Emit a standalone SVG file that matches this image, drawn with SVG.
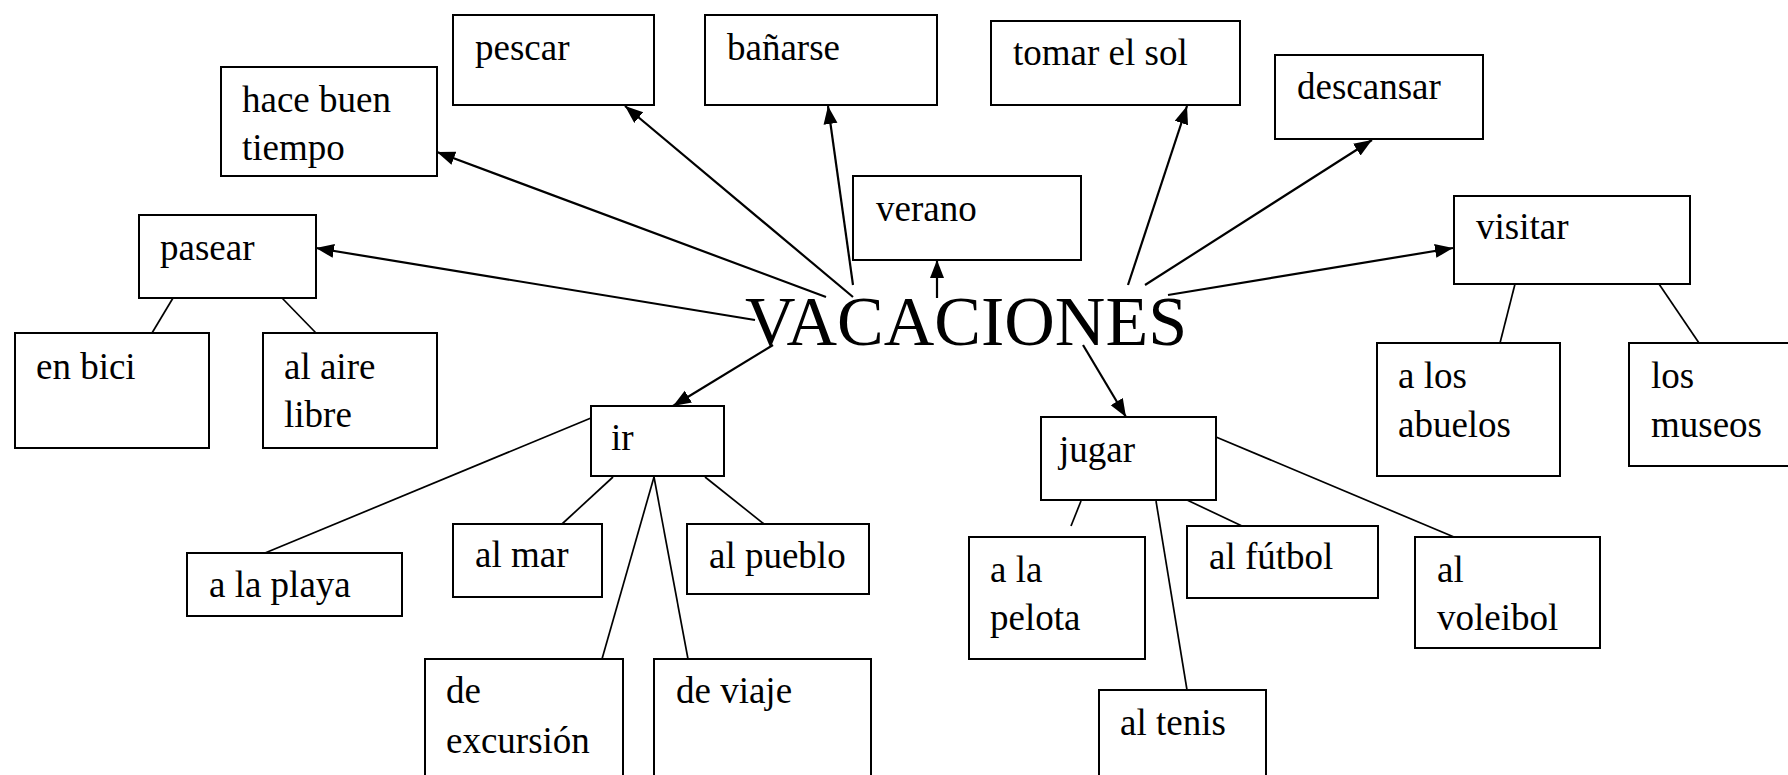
<svg xmlns="http://www.w3.org/2000/svg" width="1788" height="775" viewBox="0 0 1788 775">
<defs>
<marker id="ah" markerUnits="userSpaceOnUse" markerWidth="20" markerHeight="16" refX="18" refY="7" orient="auto">
<path d="M0,0 L18,7 L0,14 Z" fill="#000"/>
</marker>
<style>
.box{fill:#fff;stroke:#000;stroke-width:2}
.t{font-family:"Liberation Serif","Times New Roman",serif;font-size:37px;fill:#000}
.big{font-family:"Liberation Serif","Times New Roman",serif;font-size:70px;fill:#000}
.arr{stroke:#000;stroke-width:2.2;fill:none;marker-end:url(#ah)}
.ln{stroke:#000;stroke-width:1.7;fill:none}
</style>
</defs>
<rect width="1788" height="775" fill="#fff"/>
<g id="connectors">
<line class="arr" x1="755" y1="320" x2="316" y2="248"/>
<line class="arr" x1="826" y1="297" x2="437" y2="152"/>
<line class="arr" x1="853" y1="297" x2="625" y2="106"/>
<line class="arr" x1="853" y1="285" x2="828" y2="106"/>
<line class="arr" x1="937" y1="298" x2="937" y2="260"/>
<line class="arr" x1="1128" y1="285" x2="1187" y2="106"/>
<line class="arr" x1="1145" y1="285" x2="1372" y2="140"/>
<line class="arr" x1="1168" y1="295" x2="1453" y2="248"/>
<line class="arr" x1="773" y1="345" x2="673" y2="406"/>
<line class="arr" x1="1083" y1="345" x2="1126" y2="417"/>
<line class="ln" x1="173" y1="298" x2="152" y2="333"/>
<line class="ln" x1="282" y1="298" x2="316" y2="333"/>
<line class="ln" x1="591" y1="418" x2="265" y2="553"/>
<line class="ln" x1="613" y1="477" x2="562" y2="524"/>
<line class="ln" x1="654" y1="477" x2="602" y2="659"/>
<line class="ln" x1="654" y1="477" x2="688" y2="659"/>
<line class="ln" x1="705" y1="477" x2="764" y2="524"/>
<line class="ln" x1="1081" y1="501" x2="1071" y2="526"/>
<line class="ln" x1="1156" y1="501" x2="1187" y2="690"/>
<line class="ln" x1="1187" y1="500" x2="1242" y2="526"/>
<line class="ln" x1="1216" y1="437" x2="1454" y2="537"/>
<line class="ln" x1="1515" y1="284" x2="1500" y2="343"/>
<line class="ln" x1="1659" y1="284" x2="1699" y2="343"/>
</g>
<g id="vacaciones"><text class="big" x="745" y="345">VACACIONES</text></g>
<g id="pescar"><rect class="box" x="453" y="15" width="201" height="90"/><text class="t" x="475" y="60">pescar</text></g>
<g id="banarse"><rect class="box" x="705" y="15" width="232" height="90"/><text class="t" x="727" y="60">bañarse</text></g>
<g id="tomar"><rect class="box" x="991" y="21" width="249" height="84"/><text class="t" x="1013" y="65">tomar el sol</text></g>
<g id="descansar"><rect class="box" x="1275" y="55" width="208" height="84"/><text class="t" x="1297" y="99">descansar</text></g>
<g id="hace"><rect class="box" x="221" y="67" width="216" height="109"/><text class="t" x="242" y="112">hace buen<tspan x="242" y="160">tiempo</tspan></text></g>
<g id="verano"><rect class="box" x="853" y="176" width="228" height="84"/><text class="t" x="876" y="221">verano</text></g>
<g id="pasear"><rect class="box" x="139" y="215" width="177" height="83"/><text class="t" x="160" y="260">pasear</text></g>
<g id="visitar"><rect class="box" x="1454" y="196" width="236" height="88"/><text class="t" x="1476" y="239">visitar</text></g>
<g id="enbici"><rect class="box" x="15" y="333" width="194" height="115"/><text class="t" x="36" y="379">en bici</text></g>
<g id="aire"><rect class="box" x="263" y="333" width="174" height="115"/><text class="t" x="284" y="379">al aire<tspan x="284" y="427">libre</tspan></text></g>
<g id="abuelos"><rect class="box" x="1377" y="343" width="183" height="133"/><text class="t" x="1398" y="388">a los<tspan x="1398" y="437">abuelos</tspan></text></g>
<g id="museos"><rect class="box" x="1629" y="343" width="170" height="123"/><text class="t" x="1651" y="388">los<tspan x="1651" y="437">museos</tspan></text></g>
<g id="ir"><rect class="box" x="591" y="406" width="133" height="70"/><text class="t" x="611" y="450">ir</text></g>
<g id="jugar"><rect class="box" x="1041" y="417" width="175" height="83"/><text class="t" x="1059" y="462">jugar</text></g>
<g id="almar"><rect class="box" x="453" y="524" width="149" height="73"/><text class="t" x="475" y="567">al mar</text></g>
<g id="pueblo"><rect class="box" x="687" y="524" width="182" height="70"/><text class="t" x="709" y="568">al pueblo</text></g>
<g id="playa"><rect class="box" x="187" y="553" width="215" height="63"/><text class="t" x="209" y="597">a la playa</text></g>
<g id="futbol"><rect class="box" x="1187" y="526" width="191" height="72"/><text class="t" x="1209" y="569">al fútbol</text></g>
<g id="pelota"><rect class="box" x="969" y="537" width="176" height="122"/><text class="t" x="990" y="582">a la<tspan x="990" y="630">pelota</tspan></text></g>
<g id="voleibol"><rect class="box" x="1415" y="537" width="185" height="111"/><text class="t" x="1437" y="582">al<tspan x="1437" y="630">voleibol</tspan></text></g>
<g id="excursion"><rect class="box" x="425" y="659" width="198" height="130"/><text class="t" x="446" y="703">de<tspan x="446" y="753">excursión</tspan></text></g>
<g id="viaje"><rect class="box" x="654" y="659" width="217" height="130"/><text class="t" x="676" y="703">de viaje</text></g>
<g id="tenis"><rect class="box" x="1099" y="690" width="167" height="100"/><text class="t" x="1120" y="735">al tenis</text></g>
</svg>
